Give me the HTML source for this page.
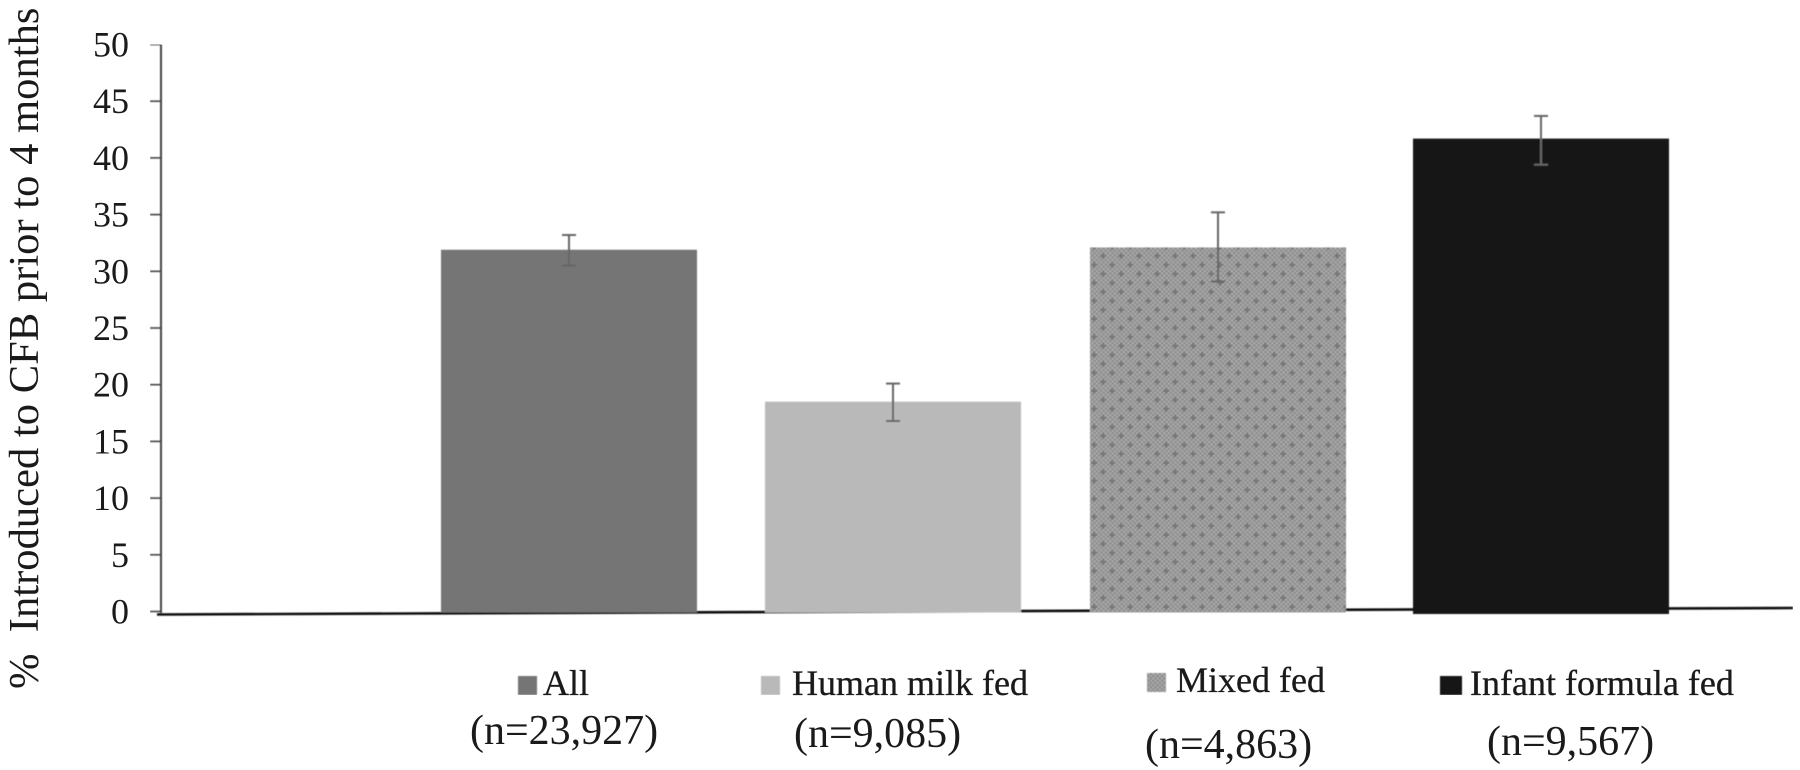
<!DOCTYPE html>
<html lang="en">
<head>
<meta charset="utf-8">
<title>Introduced to CFB prior to 4 months</title>
<style>
html,body{margin:0;padding:0;background:#fff;width:1800px;height:770px;overflow:hidden}
svg{display:block}
text{font-family:"Liberation Serif",serif;fill:#1a1a1a}
</style>
</head>
<body>
<svg id="chart" width="1800" height="770" viewBox="0 0 1800 770" xmlns="http://www.w3.org/2000/svg">
  <defs>
    <pattern id="dots-small" width="4.5" height="4.5" patternUnits="userSpaceOnUse">
      <rect width="4.5" height="4.5" fill="#aaaaaa"/>
      <rect width="2.25" height="2.25" fill="#8a8a8a"/>
      <rect x="2.25" y="2.25" width="2.25" height="2.25" fill="#8a8a8a"/>
    </pattern>
    <pattern id="dots" width="18" height="18" patternUnits="userSpaceOnUse">
      <rect width="18" height="18" fill="url(#dots-small)"/>
      <path d="M2 4h6M5 1v6M11 13h6M14 10v6" stroke="#767676" stroke-width="2"/>
    </pattern>
    <filter id="soft" x="0" y="0" width="100%" height="100%"><feGaussianBlur stdDeviation="0.5"/></filter>
  </defs>
  <rect width="1800" height="770" fill="#fff"/>
  <g id="plot" filter="url(#soft)"></g>
  <text transform="translate(38 689) rotate(-90)" font-size="42.6" xml:space="preserve" style="white-space:pre">%  Introduced to CFB prior to 4 months</text>
</svg>
<script>
const yTicks = [0, 5, 10, 15, 20, 25, 30, 35, 40, 45, 50];
const categories = ['All', 'Human milk fed', 'Mixed fed', 'Infant formula fed'];
const sampleSizes = ['(n=23,927)', '(n=9,085)', '(n=4,863)', '(n=9,567)'];
const values = [31.9, 18.5, 32.1, 41.7];
const errorLow = [30.5, 16.8, 29.1, 39.4];
const errorHigh = [33.2, 20.1, 35.2, 43.7];

const SVG_NS = 'http://www.w3.org/2000/svg';
const plot = document.getElementById('plot');
const chart = document.getElementById('chart');
const fills = ['#747474', '#b9b9b9', 'url(#dots)', '#161616'];
const swatchFills = ['#747474', '#b9b9b9', 'url(#dots-small)', '#161616'];
const barLeft = [441, 765, 1090, 1413];
const barWidth = 256;
const legendX = [518, 761, 1147, 1440];
const legendTextX = [543, 792, 1176, 1470];
const legendBase = [695, 695, 692, 695];
const nX = [470, 794, 1145, 1487];
const nBase = [744, 747, 758, 755];

function yScale(v) { return 611.5 - v * 11.34; }
function make(tag, attrs, parent) {
  const el = document.createElementNS(SVG_NS, tag);
  for (const k in attrs) el.setAttribute(k, attrs[k]);
  parent.appendChild(el);
  return el;
}

const axisX = make('line', {x1: 157, y1: 614.5, x2: 1793, y2: 608, stroke: '#111', 'stroke-width': 2.6}, plot);



yTicks.forEach(function (t) {
  const tick = make('line', {x1: 150, x2: 161, y1: yScale(t), y2: yScale(t), stroke: '#444', 'stroke-width': 1.6}, plot);
  
  
  const label = make('text', {x: 129, y: yScale(t) + 12, 'text-anchor': 'end', 'font-size': 36}, chart);
  label.textContent = t;
  
  
});

values.forEach(function (v, i) {
  const bar = make('rect', {x: barLeft[i], y: yScale(v), width: barWidth, height: (i === 3 ? 614 : 612.5) - yScale(v), fill: fills[i]}, plot);
  
  
});

const axisY = make('line', {x1: 161, x2: 161, y1: yScale(50), y2: 613, stroke: '#444', 'stroke-width': 2}, plot);



values.forEach(function (v, i) {
  const cx = barLeft[i] + barWidth / 2;
  const g = make('g', {stroke: '#666', 'stroke-width': 2, fill: 'none'}, plot);
  
  
  make('line', {x1: cx, x2: cx, y1: yScale(errorHigh[i]), y2: yScale(errorLow[i])}, g);
  make('line', {x1: cx - 7, x2: cx + 7, y1: yScale(errorHigh[i]), y2: yScale(errorHigh[i])}, g);
  make('line', {x1: cx - 7, x2: cx + 7, y1: yScale(errorLow[i]), y2: yScale(errorLow[i])}, g);
});

categories.forEach(function (c, i) {
  const size = i === 3 ? 22 : 19;
  const swatch = make('rect', {x: legendX[i], y: legendBase[i] - 19, width: size, height: 19, fill: swatchFills[i]}, plot);
  
  
  const label = make('text', {x: legendTextX[i], y: legendBase[i], 'font-size': 36, stroke: '#1a1a1a', 'stroke-width': 0.3}, chart);
  label.textContent = c;
  
  
  const n = make('text', {x: nX[i], y: nBase[i], 'font-size': 42}, chart);
  n.textContent = sampleSizes[i];
  
  
});
</script>
</body>
</html>
